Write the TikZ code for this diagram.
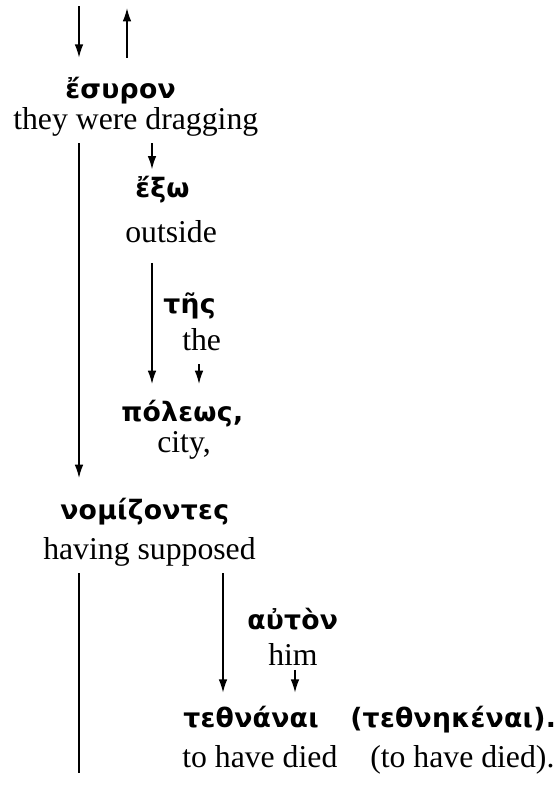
\documentclass[tikz,border=0pt]{standalone}
\usepackage{fontspec}
\setmainfont{Liberation Serif}
\newfontfamily\grk{DejaVu Sans}[LetterSpace=1]
\usetikzlibrary{arrows.meta}

\tikzset{
  gk/.style={font=\grk\bfseries\fontsize{20}{24}\selectfont, anchor=base west,
    inner xsep=0pt, inner ysep=7.5pt, text height=18pt, text depth=5pt},
  en/.style={font=\fontsize{23.8}{28}\selectfont, anchor=base west,
    inner xsep=0pt, inner ysep=5.5pt, text height=17pt, text depth=5pt},
  arr/.style={line width=1.2pt, -{Latex[length=10pt,width=6.5pt]}},
  ln/.style={line width=1.2pt}
}

\begin{document}
\begin{tikzpicture}[x=0.75pt, y=-0.75pt]
\useasboundingbox (0,0) rectangle (556,785);

% columns of the lines
\coordinate (colA) at (79,0);
\coordinate (colB) at (127,0);
\coordinate (colC) at (152,0);
\coordinate (colD) at (199,0);
\coordinate (colE) at (223,0);
\coordinate (colF) at (295,0);

\coordinate (inA) at (79,6);
\coordinate (outB) at (127,8);
\coordinate (endA) at (79,773);

% words
\node[gk] (esuron) at (65,98) {ἔσυρον};
\node[en] (dragging) at (13,129) {they were dragging};
\node[gk] (exo) at (135,197) {ἔξω};
\node[en] (outside) at (125,242) {outside};
\node[gk] (tes) at (163,313) {τῆς};
\node[en] (the) at (182,350) {the};
\node[gk] (poleos) at (121,421) {πόλεως,};
\node[en] (city) at (157,452) {city,};
\node[gk] (nomiz) at (60,519) {νομίζοντες};
\node[en] (supposed) at (43,559) {having supposed};
\node[gk] (auton) at (247,629) {αὐτὸν};
\node[en] (him) at (268,665) {him};
\node[gk] (tethn) at (183,727) {τεθνάναι};
\node[en] (died) at (182,767) {to have died};
\node[gk] (tethnk) at (350,727) {(τεθνηκέναι).};
\node[en] (died2) at (370,767) {(to have died).};

% arrows
\draw[arr] (inA) -- ([yshift=4.5pt]esuron.north -| colA);
\draw[arr] ([yshift=4.5pt]esuron.north -| colB) -- (outB);
\draw[arr] (dragging.south -| colA) -- ([yshift=5pt]nomiz.north -| colA);
\draw[arr] (dragging.south -| colC) -- ([yshift=-5pt]exo.north -| colC);
\draw[arr] ([yshift=-5pt]outside.south -| colC) -- ([yshift=2pt]poleos.north -| colC);
\draw[arr] (the.south -| colD) -- ([yshift=2pt]poleos.north -| colD);
\draw[ln] (supposed.south -| colA) -- (endA);
\draw[arr] (supposed.south -| colE) -- (tethn.north -| colE);
\draw[arr] ([yshift=7pt]him.south -| colF) -- (tethn.north -| colF);

\end{tikzpicture}
\end{document}
